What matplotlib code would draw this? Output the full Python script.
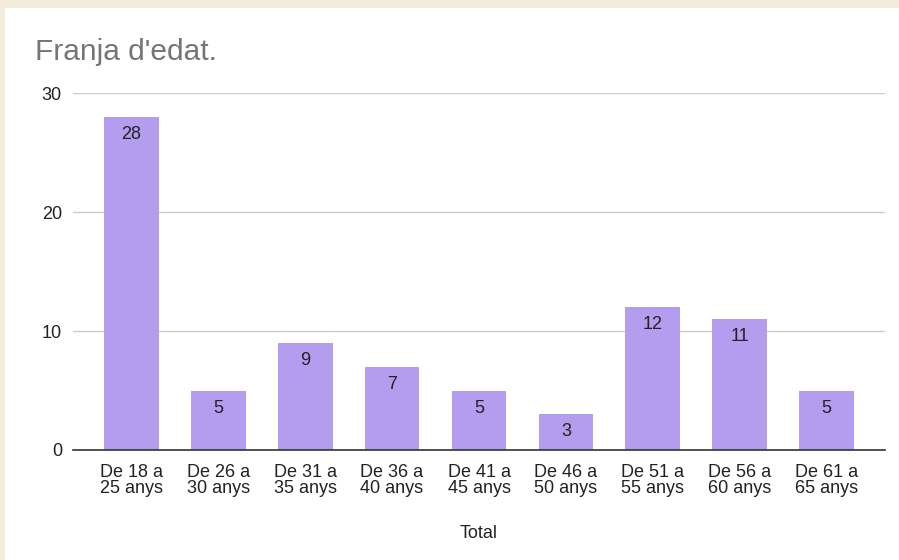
import matplotlib
matplotlib.use("Agg")
from matplotlib import pyplot as plt
from matplotlib.patches import Rectangle

plt.rcParams['font.family'] = ['Liberation Sans', 'DejaVu Sans']

# Data
categories = ["De 18 a\n25 anys", "De 26 a\n30 anys", "De 31 a\n35 anys",
              "De 36 a\n40 anys", "De 41 a\n45 anys", "De 46 a\n50 anys",
              "De 51 a\n55 anys", "De 56 a\n60 anys", "De 61 a\n65 anys"]
values = [28, 5, 9, 7, 5, 3, 12, 11, 5]
y_ticks = [0, 10, 20, 30]

bar_color = "#b49cee"

fig = plt.figure(figsize=(8.99, 5.6), dpi=100)
fig.patch.set_facecolor("white")

# beige frame strips (top and left)
fig.patches.append(Rectangle((0, 1 - 8 / 560), 1, 8 / 560, transform=fig.transFigure,
                             facecolor="#f3ecdc", edgecolor="none", zorder=0))
fig.patches.append(Rectangle((0, 0), 5 / 899, 1, transform=fig.transFigure,
                             facecolor="#f3ecdc", edgecolor="none", zorder=0))

ax = fig.add_axes([73 / 899, 1 - 450 / 560, (885 - 73) / 899, (450 - 93) / 560])

x = range(len(values))
ax.bar(x, values, width=0.63, color=bar_color, zorder=2)

for i, v in enumerate(values):
    ax.annotate(str(v), xy=(i, v), xytext=(0, -6.5), textcoords="offset points",
                ha="center", va="top", fontsize=13, color="#222222", zorder=3)

ax.set_xlim(-0.67, len(values) - 1 + 0.67)
ax.set_ylim(0, 30)
ax.set_yticks(y_ticks)
ax.set_xticks(list(x))
ax.set_xticklabels(categories, fontsize=13, color="#222222", linespacing=0.95)
ax.tick_params(axis="y", length=0, pad=8, labelsize=13, labelcolor="#222222")
ax.tick_params(axis="x", length=0, pad=10)

ax.grid(axis="y", color="#cccccc", linewidth=1, zorder=0)
for s in ["top", "right", "left"]:
    ax.spines[s].set_visible(False)
ax.spines["bottom"].set_color("#333333")
ax.spines["bottom"].set_linewidth(1.2)
ax.spines["bottom"].set_zorder(3)

ax.set_xlabel("Total", fontsize=13, color="#222222", labelpad=20)

fig.text(35 / 899, 1 - 60 / 560, "Franja d'edat.", fontsize=21.5, color="#757575",
         ha="left", va="baseline")

plt.savefig("out.png", dpi=100)
